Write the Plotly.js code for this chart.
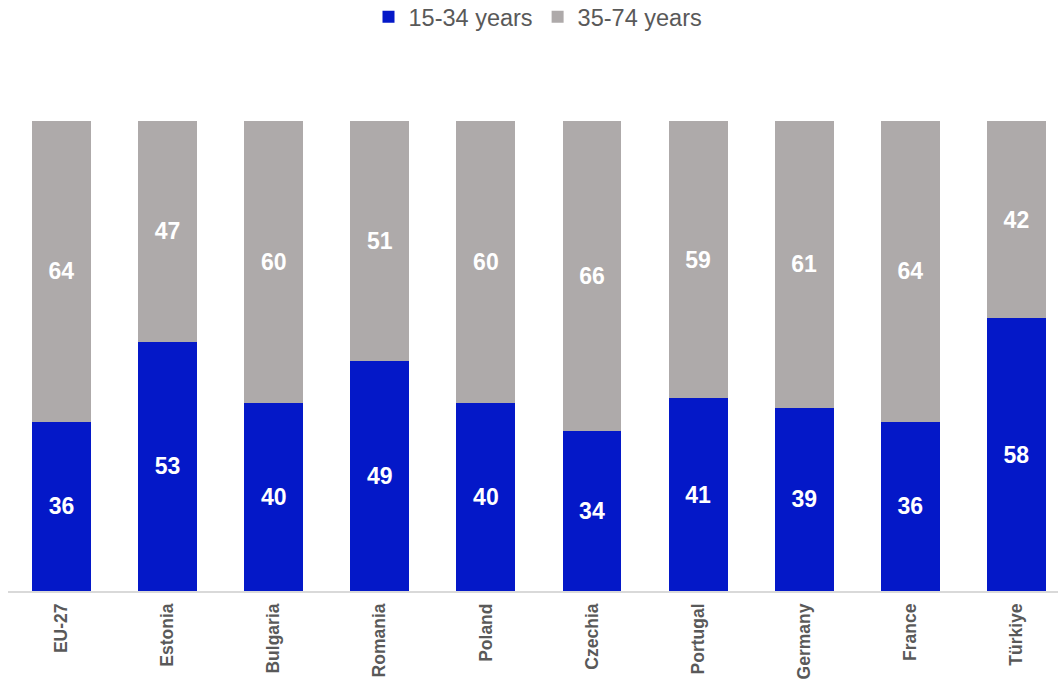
<!DOCTYPE html>
<html>
<head>
<meta charset="utf-8">
<script src="https://cdn.plot.ly/plotly-3.0.1.min.js"></script>
<style>html,body{margin:0;padding:0;background:#fff;overflow:hidden;}#chart{width:1058px;height:692px;margin-top:-5px;}</style>
</head>
<body>
<div id="chart"></div>
<script>
const categories = ["EU-27","Estonia","Bulgaria","Romania","Poland","Czechia","Portugal","Germany","France","Türkiye"];
const young = [36,53,40,49,40,34,41,39,36,58];
const older = [64,47,60,51,60,66,59,61,64,42];
const seriesNames = ["15-34 years","35-74 years"];

const common = {
  type: 'bar',
  x: categories,
  textposition: 'inside',
  insidetextanchor: 'middle',
  textfont: {family: 'Liberation Sans, Arial, sans-serif', size: 23, color: '#FFFFFF', weight: 'bold'},
  hoverinfo: 'x+y+name'
};

const traces = [
  Object.assign({}, common, {name: seriesNames[0], y: young, text: young.map(String), marker: {color: '#0418C8'}}),
  Object.assign({}, common, {name: seriesNames[1], y: older, text: older.map(String), marker: {color: '#AEAAAA'}})
];

const layout = {
  width: 1058, height: 692,
  margin: {l: 8, r: 0, t: 126, b: 96},
  barmode: 'stack',
  bargap: 0.444,
  paper_bgcolor: '#FFFFFF',
  plot_bgcolor: '#FFFFFF',
  showlegend: true,
  legend: {orientation: 'h', x: 0.5 + 9/1058, xanchor: 'center', xref: 'container',
           y: 1, yanchor: 'top', yref: 'container',
           font: {family: 'Liberation Sans, Arial, sans-serif', size: 23.5, color: '#595959'},
           itemwidth: 30, traceorder: 'normal'},
  xaxis: {
    type: 'category',
    range: [-0.504, 9.392],
    tickangle: -90,
    tickfont: {family: 'Liberation Sans, Arial, sans-serif', size: 17.5, color: '#595959', weight: 'bold'},
    showline: true, linecolor: '#D9D9D9', linewidth: 1.5,
    ticks: '', showgrid: false, zeroline: false, ticklabelstandoff: 4
  },
  yaxis: {
    range: [0, 100], visible: false, showgrid: false, zeroline: false
  },
  uniformtext: {mode: false}
};

Plotly.newPlot('chart', traces, layout, {displayModeBar: false, staticPlot: true});
</script>
</body>
</html>
